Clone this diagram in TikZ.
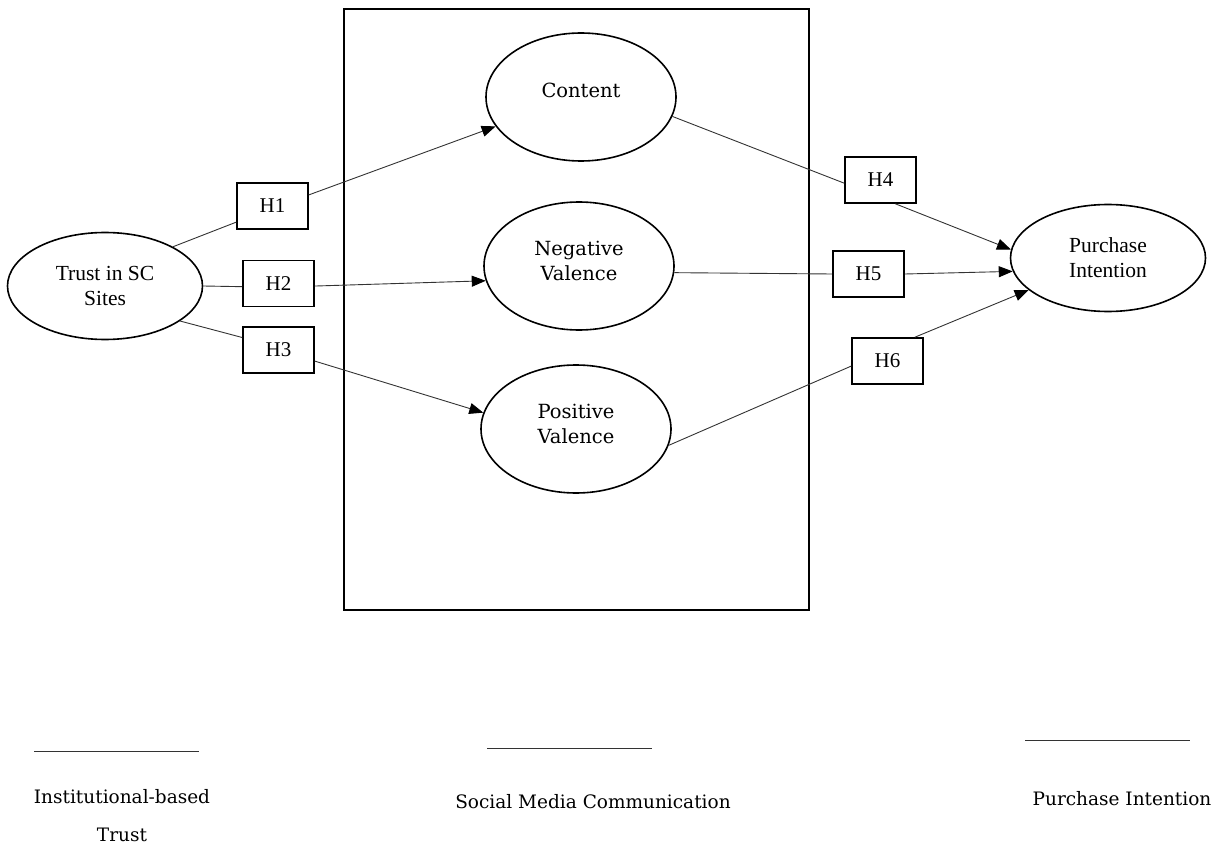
\documentclass[tikz,border=0pt]{standalone}
\usepackage{fontspec}
\setmainfont{Liberation Serif}
\newfontfamily\geo{DejaVu Serif}
\usetikzlibrary{shapes.geometric,arrows.meta}
\begin{document}
\begin{tikzpicture}[x=1pt,y=-1pt,
  oval/.style={draw, ellipse, line width=1.6pt, inner sep=0pt,
    minimum width=190pt, minimum height=128pt},
  tval/.style={draw, ellipse, line width=1.6pt, inner sep=0pt,
    minimum width=195pt, minimum height=107pt, align=center,
    font=\fontsize{21.5}{25}\selectfont},
  hbox/.style={draw, rectangle, line width=1.6pt, inner sep=0pt,
    minimum width=71pt, minimum height=46pt, font=\fontsize{21}{24}\selectfont},
  conn/.style={draw=black!80, line width=0.9pt},
  arr/.style={conn, -{Triangle[length=14pt,width=11pt,color=black]}},
  glab/.style={align=center, font=\geo\fontsize{19.5}{25}\selectfont},
  blab/.style={align=center, font=\geo\fontsize{18.5}{38}\selectfont, anchor=north}]
\useasboundingbox (0,0) rectangle (1225,850);

% frame
\node[draw, line width=1.8pt, inner sep=0pt, minimum width=465pt, minimum height=601pt] (frame) at (576.5,309.5) {};

% ellipses
\node[tval] (trust) at (105,286) {Trust in SC\\Sites};
\node[tval] (purch) at (1108,258) {Purchase\\Intention};
\node[oval, label={[glab, yshift=7pt]center:Content}] (content) at (581,97) {};
\node[oval, label={[glab, yshift=5pt]center:Negative\\Valence}] (neg) at (579,266) {};
\node[oval, label={[glab, yshift=5pt]center:Positive\\Valence}] (pos) at (576,429) {};

% hypothesis boxes
\node[hbox] (h1) at (272.5,206) {H1};
\node[hbox] (h2) at (278.5,283.5) {H2};
\node[hbox] (h3) at (278.5,350) {H3};
\node[hbox] (h4) at (880.5,180) {H4};
\node[hbox] (h5) at (868.5,274) {H5};
\node[hbox] (h6) at (887.5,361) {H6};

% connectors
\draw[conn] (trust.30) -- (h1.204);
\draw[arr] (h1.17) -- (content.199);
\draw[conn] (trust.0) -- (h2.185);
\draw[arr] (h2.-4) -- (neg.189);
\draw[conn] (trust.-25) -- (h3.161);
\draw[arr] (h3.-17) -- (pos.170);
\draw[conn] (content.-12) -- (h4.185);
\draw[arr] (h4.-58) -- (purch.175);
\draw[conn] (neg.-4) -- (h5.180);
\draw[arr] (h5.0) -- (purch.188);
\draw[conn] (pos.-10) -- (h6.188);
\draw[arr] (h6.41) -- (purch.202);

% bottom legend
\coordinate (l1a) at (34,751); \coordinate (l1b) at (199,751);
\coordinate (l2a) at (487,748); \coordinate (l2b) at (652,748);
\coordinate (l3a) at (1025,740); \coordinate (l3b) at (1190,740);
\draw[conn] (l1a) -- (l1b);
\draw[conn] (l2a) -- (l2b);
\draw[conn] (l3a) -- (l3b);
\node[blab] (lab1) at (122,786) {Institutional-based\\Trust};
\node[blab] (lab2) at (593,791) {Social Media Communication};
\node[blab] (lab3) at (1122,788) {Purchase Intention};
\end{tikzpicture}
\end{document}
